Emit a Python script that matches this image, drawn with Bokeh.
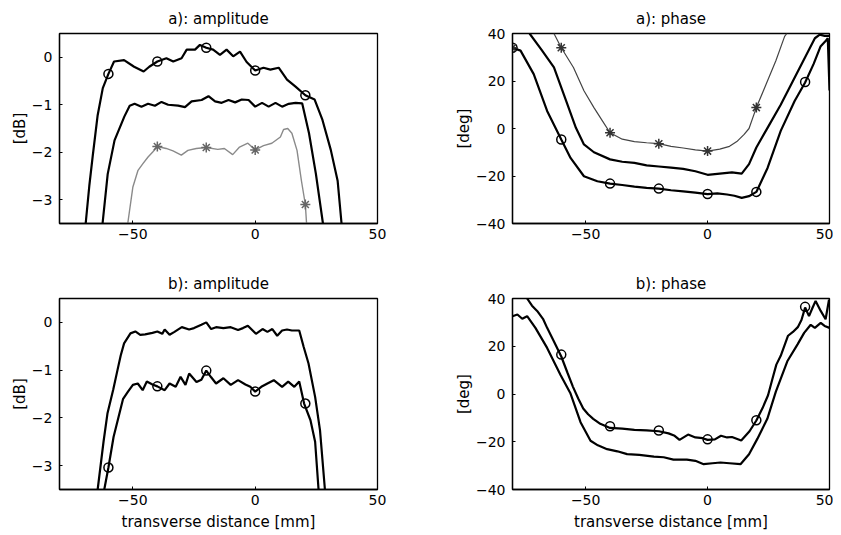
from bokeh.plotting import figure
from bokeh.layouts import gridplot
from bokeh.models import FixedTicker, Range1d
from bokeh.embed import file_html
from bokeh.resources import INLINE

# ---------------- data ----------------
x_ticks = [-50, 0, 50]
amp_ticks = [-3, -2, -1, 0]
phase_ticks = [-40, -20, 0, 20, 40]

# a): amplitude
a_amp_top_x = [-69.3, -67.8, -66.4, -64.4, -62.3, -60, -57.7, -53.6, -49.5, -45.6, -43.3, -40,
               -36.3, -33.5, -30.1, -28, -24.6, -22.6, -20, -17.2, -14.4, -11.7, -9, -6.2, -3.5,
               0, 3.4, 6.2, 9.6, 13, 16.5, 20.5, 24.3, 27.5, 30.9, 33.7, 35.3]
a_amp_top_y = [-3.5, -2.7, -2.07, -1.22, -0.65, -0.35, -0.09, -0.06, -0.2, -0.3, -0.2, -0.09,
               -0.02, -0.09, -0.02, 0.16, 0.16, 0.26, 0.2, 0.16, 0.05, 0.16, 0.02, 0.12, -0.1,
               -0.28, -0.22, -0.26, -0.22, -0.47, -0.62, -0.8, -0.89, -1.32, -1.95, -2.6, -3.5]
a_amp_mid_x = [-62.4, -60.3, -57.5, -53.5, -51.3, -49.3, -46.5, -43.8, -41, -38.3, -35.6, -31.5,
               -28.7, -26, -21.9, -19.1, -16.4, -13.7, -10.9, -8.2, -5.5, -2.7, 0, 2.8, 5.5, 8.3,
               11, 13.7, 16.5, 19.2, 22, 24.8, 27.7]
a_amp_mid_y = [-3.5, -2.46, -1.75, -1.25, -1.02, -0.98, -1.04, -0.98, -1.02, -0.94, -1.0, -1.02,
               -1.05, -0.93, -0.9, -0.82, -0.93, -0.96, -0.9, -0.95, -0.89, -0.9, -1.04, -0.96,
               -1.04, -0.96, -1.04, -0.98, -0.96, -0.97, -1.6, -2.45, -3.5]
a_amp_low_x = [-52.1, -50, -47.9, -45.9, -43.8, -41.8, -40, -36.4, -33.6, -30.2, -27.5, -24.1,
               -20, -15.3, -12.6, -9.2, -6.4, -3, 0, 3.4, 6.8, 10.3, 11.6, 13.3, 15, 17.1, 18.9,
               20.5, 21]
a_amp_low_y = [-3.5, -2.73, -2.38, -2.24, -2.1, -1.99, -1.88, -1.92, -1.97, -2.06, -1.96, -1.92,
               -1.9, -1.94, -1.92, -2.05, -1.89, -1.81, -1.95, -1.86, -1.81, -1.68, -1.52, -1.5,
               -1.6, -1.96, -2.6, -3.1, -3.5]
a_amp_circ_x = [-60, -40, -20, 0, 20.5]
a_amp_circ_y = [-0.35, -0.09, 0.2, -0.28, -0.8]
a_amp_star_x = [-40, -20, 0, 20.5]
a_amp_star_y = [-1.88, -1.9, -1.95, -3.1]

# a): phase
a_ph_star_x = [-63, -60, -55, -50.7, -46.6, -43, -40, -35, -30, -25, -20, -15, -10, -5, 0, 5,
               9, 12, 15, 17, 20, 24, 28, 31.6, 32.5]
a_ph_star_y = [40, 34, 25.7, 15.9, 8.8, 3, -1.8, -4.5, -5.5, -6, -6.4, -7.5, -8.2, -9, -9.5,
               -8.7, -7.5, -5.5, -2.5, 0, 8.8, 18.6, 28.5, 38.8, 40]
a_ph_mid_x = [-73, -68, -63, -58, -54, -50.7, -46.6, -40, -35, -30, -25, -20, -15, -10, -5, 0,
              5, 10, 14, 17, 20, 25, 30, 35, 40, 44, 46, 48, 50]
a_ph_mid_y = [40, 33, 25.7, 11.6, 0.3, -6.7, -10, -13, -14, -14.5, -15.5, -16, -16.5, -17, -18,
              -19.5, -19, -18.5, -19, -15, -8, 1, 10, 20, 30, 38, 39.5, 39, 39]
a_ph_circ_line_x = [-80, -76.7, -71.3, -65.8, -60, -56.2, -50.7, -45.2, -40, -35, -30, -25, -20,
                    -15, -10, -5, 0, 4, 8, 11, 14, 17, 20, 24.6, 30, 35.7, 40, 43.5, 46.3, 48.3,
                    49.3, 50]
a_ph_circ_line_y = [34, 32.8, 22.9, 7.4, -4.6, -12.4, -20.1, -22.2, -23.2, -23.8, -24.5, -25,
                    -25.3, -26, -26.5, -27, -27.6, -27.3, -27.8, -28.3, -29.2, -28.5, -26.7,
                    -16.6, -1, 11.6, 19.4, 27.2, 34.5, 36.7, 38, 16]
a_ph_circ_x = [-80, -60, -40, -20, 0, 20, 40]
a_ph_circ_y = [34, -4.6, -23.2, -25.3, -27.6, -26.7, 19.6]
a_ph_starm_x = [-80, -60, -40, -20, 0, 20]
a_ph_starm_y = [34, 34, -1.8, -6.4, -9.5, 8.8]

# b): amplitude
b_amp_top_x = [-64.4, -62, -60.4, -58, -56.3, -55, -53.6, -51, -49, -47, -45, -42, -40, -38,
               -37, -35, -33, -30, -27, -25, -22, -20, -18, -16, -13, -10, -7, -5, -3, 0.3, 3,
               5, 7, 9, 11, 13, 15, 18, 19.8, 21.8, 24.5, 26.5, 28.5]
b_amp_top_y = [-3.5, -2.5, -1.91, -1.4, -1.0, -0.7, -0.44, -0.23, -0.19, -0.26, -0.25, -0.22,
               -0.19, -0.24, -0.15, -0.26, -0.2, -0.1, -0.15, -0.12, -0.05, 0, -0.14, -0.1,
               -0.12, -0.1, -0.16, -0.12, -0.07, -0.24, -0.14, -0.2, -0.14, -0.28, -0.17,
               -0.15, -0.17, -0.17, -0.51, -0.86, -1.56, -2.26, -3.5]
b_amp_low_x = [-61.7, -60, -57.9, -54, -52, -50, -48, -46, -44.3, -42, -40, -37, -35, -32.5,
               -30.5, -28.5, -27, -24, -22, -20, -18, -16, -13, -10, -7, -4, -2, 0, 2.5, 5,
               7.6, 11, 13.5, 16, 18, 20, 22.6, 24.5, 25.9]
b_amp_low_y = [-3.5, -3.04, -2.4, -1.6, -1.45, -1.31, -1.28, -1.42, -1.24, -1.3, -1.34, -1.42,
               -1.28, -1.35, -1.14, -1.31, -1.07, -1.25, -1.2, -1.01, -1.15, -1.28, -1.17,
               -1.31, -1.21, -1.3, -1.35, -1.45, -1.35, -1.28, -1.21, -1.35, -1.24, -1.35,
               -1.24, -1.7, -2.05, -2.5, -3.5]
b_amp_circ_x = [-60, -40, -20, 0, 20.5]
b_amp_circ_y = [-3.04, -1.34, -1.01, -1.45, -1.7]

# b): phase
b_ph_up_x = [-74, -72, -69.9, -67.5, -65.8, -63, -60, -57.5, -55.2, -53, -51, -49, -46.9, -44,
             -40, -35, -30, -25, -20, -16, -13.5, -11.5, -8, -5, -2, 0, 3, 5.5, 8, 10, 13.8,
             17.2, 20, 22.5, 24.8, 26.5, 28.2, 30, 33, 35, 37, 38.5, 40, 41.6, 43, 44.3, 46.4,
             48.4, 49.8, 50]
b_ph_up_y = [40, 37, 34.8, 31.5, 27.7, 22, 15.7, 9, 3, -2, -6.1, -8.5, -10.4, -12.5, -14.2,
             -14.5, -15, -15.2, -15.6, -16.5, -17.5, -19.2, -17, -18.2, -18.5, -19.2, -19,
             -17.5, -18.2, -18, -19.5, -15.6, -11.1, -6, -0.5, 6, 12.3, 16, 24.4, 26, 28, 31,
             36.2, 32.6, 36, 39, 34.8, 31.3, 39.5, 38]
b_ph_low_x = [-80, -78, -76, -74, -70.6, -65.8, -60.3, -56.2, -52.1, -48, -45, -41.2, -37, -33,
              -28, -22, -18, -14, -8.5, -5, -1.6, 2, 5.3, 9, 13.5, 17, 20.4, 24.5, 28, 32.7,
              36.9, 39.6, 42.3, 44, 46.4, 48, 50]
b_ph_low_y = [32.6, 33.3, 31.5, 32.6, 27.7, 19.3, 8, 0.2, -11.8, -19.6, -21.5, -23.1, -24,
              -25.2, -25.5, -26.2, -26.5, -27.5, -27.5, -28, -29.4, -29, -28.7, -29, -29.4,
              -25.2, -18.8, -10.4, 1, 13.7, 20.8, 25.6, 29, 27.7, 29.8, 28.5, 27.7]
b_ph_circ_x = [-60, -40, -20, 0, 20, 40]
b_ph_circ_y = [16.5, -13.5, -15.3, -19, -11, 36.5]

# ---------------- styling ----------------
FONT = "DejaVu Sans"
THICK = 2.2


def make_fig(title, yr, yticks, ylabel, xlabel, fw, fh, ml, mr, mt, mb):
    p = figure(frame_width=fw, frame_height=fh,
               min_border_left=ml, min_border_right=mr,
               min_border_top=mt, min_border_bottom=mb,
               x_range=Range1d(-80, 50), y_range=Range1d(yr[0], yr[1]),
               output_backend="svg", toolbar_location=None, title=title)
    p.title.align = "center"
    p.title.text_font = FONT
    p.title.text_font_size = "15px"
    p.title.text_font_style = "normal"
    p.title.text_color = "black"
    p.title.standoff = 11
    p.background_fill_color = "white"
    p.border_fill_color = "white"
    p.outline_line_color = "black"
    p.outline_line_width = 1.3
    p.outline_line_alpha = 1.0
    p.xgrid.visible = False
    p.ygrid.visible = False
    p.xaxis.ticker = FixedTicker(ticks=x_ticks)
    p.yaxis.ticker = FixedTicker(ticks=yticks)
    for ax in (p.xaxis, p.yaxis):
        ax.major_tick_in = 3
        ax.major_tick_out = 0
        ax.minor_tick_line_color = None
        ax.axis_line_color = "black"
        ax.axis_line_width = 1.3
        ax.major_label_text_font = FONT
        ax.major_label_text_font_size = "14px"
        ax.major_label_text_color = "black"
        ax.axis_label_text_font = FONT
        ax.axis_label_text_font_style = "normal"
        ax.axis_label_text_color = "black"
    p.xaxis.major_label_standoff = 5
    p.yaxis.major_label_standoff = 7
    p.yaxis.axis_label = ylabel
    p.yaxis.axis_label_text_font_size = "15px"
    p.yaxis.axis_label_standoff = 0
    if xlabel:
        p.xaxis.axis_label = xlabel
        p.xaxis.axis_label_text_font_size = "15px"
        p.xaxis.axis_label_standoff = 5
    return p


# top-left
p1 = make_fig("a): amplitude", (-3.5, 0.5), amp_ticks, "[dB]", None, 318, 190, 59, 30, 33, 30)
p1.line(a_amp_top_x, a_amp_top_y, line_color="black", line_width=THICK)
p1.line(a_amp_mid_x, a_amp_mid_y, line_color="black", line_width=THICK)
p1.line(a_amp_low_x, a_amp_low_y, line_color="#8a8a8a", line_width=1.4)
p1.scatter(a_amp_circ_x, a_amp_circ_y, marker="circle", size=9, fill_color=None,
           line_color="black", line_width=1.5)
p1.scatter(a_amp_star_x, a_amp_star_y, marker="asterisk", size=10,
           line_color="#666666", line_width=1.5)

# top-right
p2 = make_fig("a): phase", (-40, 40), phase_ticks, "[deg]", None, 317, 190, 105, 4, 33, 30)
p2.line(a_ph_star_x, a_ph_star_y, line_color="#444444", line_width=1.2)
p2.line(a_ph_mid_x, a_ph_mid_y, line_color="black", line_width=THICK)
p2.line(a_ph_circ_line_x, a_ph_circ_line_y, line_color="black", line_width=THICK)
p2.scatter(a_ph_circ_x, a_ph_circ_y, marker="circle", size=9, fill_color=None,
           line_color="black", line_width=1.5)
p2.scatter(a_ph_starm_x, a_ph_starm_y, marker="asterisk", size=10,
           line_color="#333333", line_width=1.5)

# bottom-left
p3 = make_fig("b): amplitude", (-3.5, 0.5), amp_ticks, "[dB]", "transverse distance [mm]",
              318, 191, 59, 30, 45, 46)
p3.line(b_amp_top_x, b_amp_top_y, line_color="black", line_width=THICK)
p3.line(b_amp_low_x, b_amp_low_y, line_color="black", line_width=THICK)
p3.scatter(b_amp_circ_x, b_amp_circ_y, marker="circle", size=9, fill_color=None,
           line_color="black", line_width=1.5)

# bottom-right
p4 = make_fig("b): phase", (-40, 40), phase_ticks, "[deg]", "transverse distance [mm]",
              317, 191, 105, 4, 45, 46)
p4.line(b_ph_up_x, b_ph_up_y, line_color="black", line_width=THICK)
p4.line(b_ph_low_x, b_ph_low_y, line_color="black", line_width=THICK)
p4.scatter(b_ph_circ_x, b_ph_circ_y, marker="circle", size=9, fill_color=None,
           line_color="black", line_width=1.5)

grid = gridplot([[p1, p2], [p3, p4]], toolbar_location=None)

open("out.html", "w").write(file_html(grid, INLINE))
